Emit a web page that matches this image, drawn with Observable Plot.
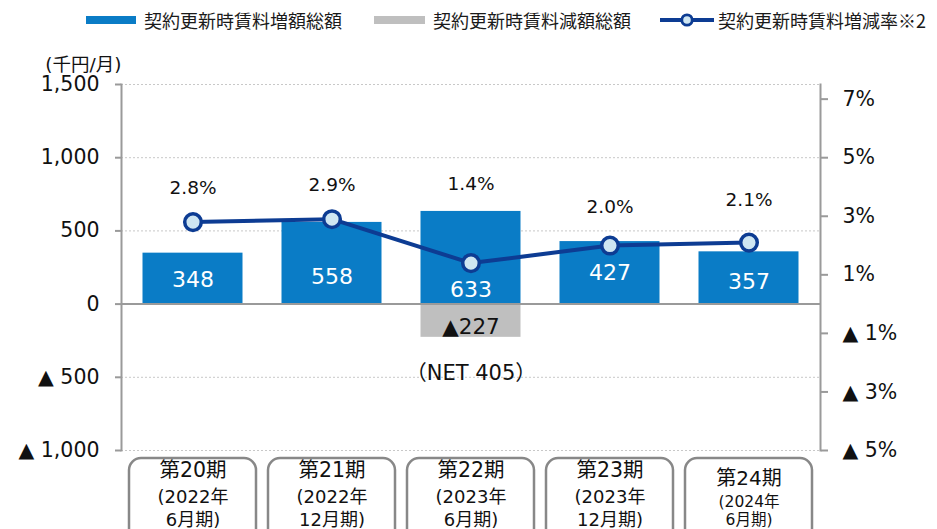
<!DOCTYPE html>
<html><head><meta charset="utf-8">
<script src="https://cdn.jsdelivr.net/npm/d3@7"></script>
<script src="https://cdn.jsdelivr.net/npm/@observablehq/plot@0.6"></script>
<style>
html,body{margin:0;padding:0;background:#fff;overflow:hidden;}
body{font-family:"DejaVu Sans","Noto Sans CJK JP",sans-serif;color:#1a1a1a;}
#legend{position:relative;width:937px;height:36px;}
.li{position:absolute;top:8px;height:24px;display:flex;align-items:center;font-family:"Noto Sans CJK JP",sans-serif;font-size:18px;white-space:nowrap;}
.sw{display:inline-block;height:8px;margin-right:8px;}
</style></head><body>
<div id="legend"></div>
<div id="chart"></div>
<script>
// ---- data ----
const periods = ["第20期","第21期","第22期","第23期","第24期"];
const periodSubs = ["(2022年\n6月期)","(2022年\n12月期)","(2023年\n6月期)","(2023年\n12月期)","(2024年\n6月期)"];
const increaseTotals = [348, 558, 633, 427, 357];
const decreaseTotals = [0, 0, -227, 0, 0];
const changeRates = [2.8, 2.9, 1.4, 2.0, 2.1];
const leftTicks = [1500, 1000, 500, 0, -500, -1000];
const rightTicks = [7, 5, 3, 1, -1, -3, -5];
const seriesNames = ["契約更新時賃料増額総額","契約更新時賃料減額総額","契約更新時賃料増減率※2"];
const unitLabel = "(千円/月)";
const netLabel = "（NET 405）";

// ---- layout / style ----
const FONT = '"DejaVu Sans","Noto Sans CJK JP",sans-serif';
const BLUE = "#0A7CC6", GREY = "#BFBFBF", LINE = "#0D3C93", DOTFILL = "#CFE6F2";
const RATE_TO_LEFT = 200; // right axis (%) -> left axis units
const valueLabelRise = [24, 27, 14, 31, 22];
const rateLabelRise = [34, 34, 79, 38, 43];
const catTitleDy = [20, 20, 20, 20, 28];
const catTitleSize = [20.5, 20.5, 20.5, 20.5, 20];
const catSubSize = [18, 18, 18, 18, 15.5];
const catSubDy = [36, 36, 36, 36, 44];
const catLineH = [1.28, 1.28, 1.28, 1.28, 1.16];

const data = periods.map((p, i) => ({period: p, sub: periodSubs[i], inc: increaseTotals[i], dec: decreaseTotals[i], rate: changeRates[i]}));

// ---- legend ----
const lg = document.getElementById("legend");
lg.innerHTML =
  `<div class="li" style="left:86px"><span class="sw" style="width:50px;background:${BLUE}"></span>${seriesNames[0]}</div>` +
  `<div class="li" style="left:374px"><span class="sw" style="width:51px;background:${GREY}"></span>${seriesNames[1]}</div>` +
  `<div class="li" style="left:659px"><svg width="56" height="16" style="margin-right:3px"><line x1="1" x2="55" y1="8" y2="8" stroke="${LINE}" stroke-width="4"/><circle cx="28" cy="8" r="5.2" fill="${DOTFILL}" stroke="${LINE}" stroke-width="2.8"/></svg>${seriesNames[2]}</div>`;

const fmtLeft = v => v < 0 ? "▲ " + d3.format(",")(-v) : d3.format(",")(v);
const fmtRight = v => { const p = v / RATE_TO_LEFT; return p < 0 ? "▲ " + (-p) + "%" : p + "%"; };

const marks = [
  Plot.ruleY(leftTicks.filter(v => v !== 0), {stroke: "#c8c8c8", strokeWidth: 1, strokeDasharray: "2,2"}),
  Plot.barY(data, {x: "period", y: "inc", fill: BLUE, insetLeft: 19.5, insetRight: 19.5}),
  Plot.barY(data.filter(d => d.dec !== 0), {x: "period", y: "dec", fill: GREY, insetLeft: 19.5, insetRight: 19.5}),
  Plot.ruleY([0], {stroke: "#9a9a9a", strokeWidth: 2}),
  Plot.frame({anchor: "left", stroke: "#9a9a9a", strokeWidth: 2}),
  Plot.frame({anchor: "right", stroke: "#9a9a9a", strokeWidth: 2}),
  Plot.axisY({anchor: "left", ticks: leftTicks, tickFormat: fmtLeft, tickSize: 6, tickPadding: 16, stroke: "#9a9a9a", strokeWidth: 2, fill: "#111", fontSize: 20.5, label: null}),
  Plot.axisY({anchor: "right", ticks: rightTicks.map(p => p * RATE_TO_LEFT), tickFormat: fmtRight, tickSize: 7, tickPadding: 15, stroke: "#9a9a9a", strokeWidth: 2, fill: "#111", fontSize: 20.5, label: null}),
  Plot.text([unitLabel], {frameAnchor: "top-left", textAnchor: "end", dx: 0, dy: -27, fontSize: 18.5, fill: "#111"}),
  Plot.line(data, {x: "period", y: d => d.rate * RATE_TO_LEFT, stroke: LINE, strokeWidth: 4}),
  Plot.dot(data, {x: "period", y: d => d.rate * RATE_TO_LEFT, r: 8.3, fill: DOTFILL, stroke: LINE, strokeWidth: 3.5}),
  Plot.text(data.filter(d => d.dec !== 0), {x: "period", y: d => d.dec / 2, text: d => "▲" + (-d.dec), dy: 6, fontSize: 21.5, fill: "#111"}),
  Plot.text(data.filter(d => d.dec !== 0), {x: "period", y: "dec", text: () => netLabel, dy: 36, fontSize: 21, fill: "#111"}),
  Plot.barY(data, {x: "period", y1: -1000, y2: -1000, insetTop: 8, insetBottom: -110, insetLeft: 6, insetRight: 6, rx: 12, fill: "white", stroke: "#888", strokeWidth: 2.5})
];
data.forEach((d, i) => {
  marks.push(Plot.text([d], {x: "period", y: 0, text: d => String(d.inc), dy: -valueLabelRise[i], fontSize: 22, fill: "white"}));
  marks.push(Plot.text([d], {x: "period", y: d => d.rate * RATE_TO_LEFT, text: d => d.rate.toFixed(1) + "%", dy: -rateLabelRise[i], fontSize: 18.5, fill: "#111"}));
  marks.push(Plot.text([d], {x: "period", y: -1000, text: "period", dy: catTitleDy[i], fontSize: catTitleSize[i], fill: "#111"}));
  marks.push(Plot.text([d], {x: "period", y: -1000, text: "sub", lineHeight: catLineH[i], lineAnchor: "top", fontSize: catSubSize[i], fill: "#111", dy: catSubDy[i]}));
});

const chart = Plot.plot({
  width: 937, height: 493,
  marginTop: 48, marginBottom: 79, marginLeft: 121, marginRight: 117,
  style: {fontFamily: FONT, background: "white", color: "#111"},
  x: {domain: periods, padding: 0, axis: null},
  y: {domain: [-1000, 1500], axis: null},
  marks
});
document.getElementById("chart").appendChild(chart);
</script>
</body></html>
